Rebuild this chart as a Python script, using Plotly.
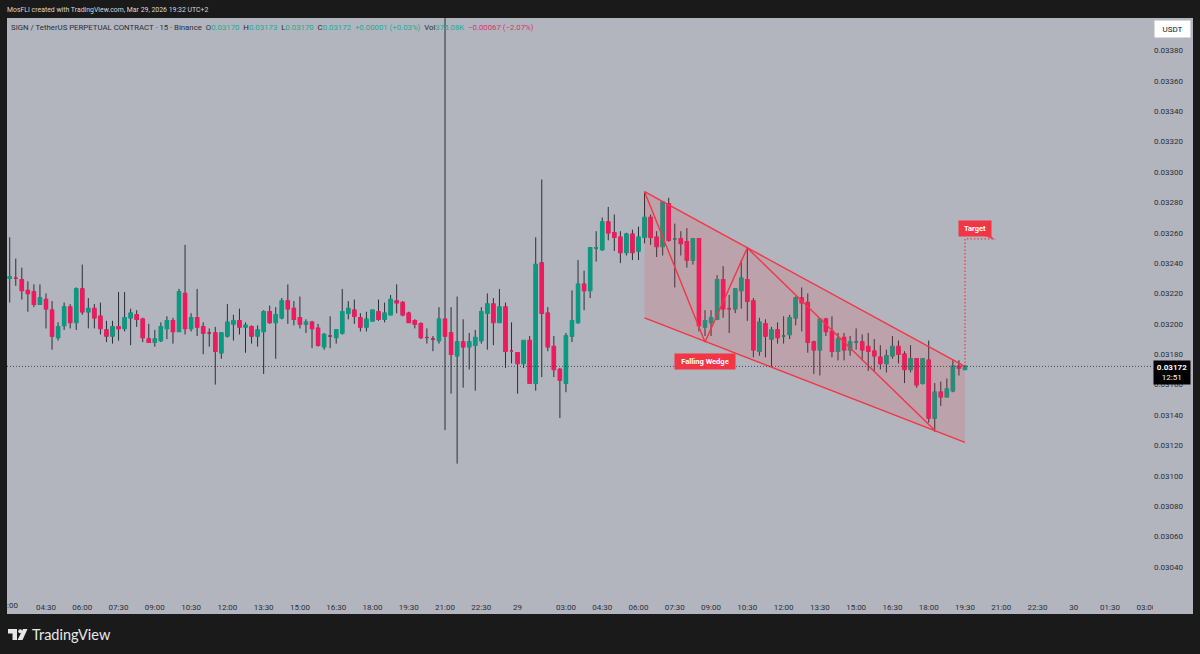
#############################################
########## 1. Load libraries
#############################################
import plotly.graph_objs as go

#############################################
########## 2. Data
#############################################
# Prices are in ticks of 0.00001 USDT, one entry per 15 minute bar
open_ticks = [3230, 3230, 3229, 3222, 3221, 3213, 3216, 3209, 3191, 3199, 3211, 3201, 3223, 3208, 3210, 3205, 3196, 3192, 3198, 3197,
	3204, 3206, 3203, 3190, 3188, 3189, 3197, 3202, 3195, 3220, 3197, 3204, 3198, 3194, 3194, 3181, 3192, 3200, 3202, 3198,
	3198, 3192, 3195, 3208, 3201, 3204, 3215, 3210, 3204, 3200, 3201, 3197, 3185, 3192, 3191, 3194, 3207, 3209, 3204, 3198,
	3202, 3208, 3203, 3206, 3215, 3214, 3207, 3202, 3200, 3191, 3190, 3189, 3203, 3194, 3179, 3188, 3185, 3186, 3189, 3207,
	3213, 3201, 3211, 3182, 3181, 3174, 3189, 3161, 3240, 3207, 3185, 3170, 3161, 3192, 3201, 3226, 3222, 3250, 3249, 3267,
	3260, 3257, 3247, 3259, 3248, 3257, 3270, 3257, 3251, 3279, 3256, 3256, 3254, 3242, 3256, 3198, 3201, 3203, 3229, 3210,
	3210, 3222, 3229, 3215, 3182, 3200, 3190, 3196, 3192, 3193, 3204, 3217, 3214, 3188, 3183, 3203, 3195, 3182, 3191, 3183,
	3188, 3188, 3185, 3182, 3178, 3174, 3179, 3185, 3180, 3170, 3177, 3161, 3176, 3138, 3155, 3152, 3156, 3172, 3170]
high_ticks = [3257, 3243, 3237, 3228, 3226, 3226, 3220, 3215, 3201, 3214, 3213, 3224, 3239, 3217, 3213, 3214, 3202, 3202, 3221, 3221,
	3210, 3209, 3204, 3200, 3196, 3201, 3205, 3204, 3223, 3252, 3207, 3223, 3201, 3197, 3198, 3194, 3213, 3206, 3210, 3201,
	3199, 3199, 3209, 3212, 3211, 3217, 3226, 3215, 3218, 3203, 3202, 3200, 3194, 3205, 3196, 3223, 3215, 3216, 3207, 3208,
	3209, 3216, 3214, 3219, 3226, 3215, 3208, 3203, 3201, 3197, 3192, 3211, 3420, 3211, 3218, 3203, 3194, 3196, 3211, 3220,
	3217, 3223, 3214, 3201, 3181, 3189, 3192, 3257, 3295, 3211, 3192, 3171, 3194, 3222, 3242, 3235, 3250, 3261, 3270, 3277,
	3272, 3261, 3260, 3262, 3264, 3287, 3272, 3261, 3280, 3283, 3266, 3261, 3263, 3256, 3256, 3209, 3209, 3232, 3238, 3219,
	3223, 3242, 3250, 3217, 3204, 3203, 3198, 3201, 3205, 3206, 3218, 3224, 3220, 3189, 3203, 3204, 3205, 3194, 3194, 3192,
	3197, 3193, 3194, 3190, 3186, 3183, 3192, 3189, 3182, 3186, 3177, 3177, 3189, 3161, 3162, 3164, 3176, 3176, 3173]
low_ticks = [3214, 3225, 3216, 3208, 3211, 3213, 3197, 3183, 3189, 3196, 3197, 3196, 3206, 3197, 3197, 3193, 3188, 3187, 3189, 3195,
	3186, 3198, 3188, 3188, 3185, 3188, 3190, 3187, 3195, 3193, 3195, 3192, 3180, 3185, 3160, 3177, 3191, 3189, 3193, 3181,
	3187, 3185, 3167, 3200, 3177, 3203, 3200, 3199, 3197, 3194, 3184, 3185, 3183, 3184, 3187, 3193, 3203, 3200, 3195, 3195,
	3202, 3202, 3201, 3206, 3207, 3205, 3201, 3197, 3190, 3187, 3182, 3187, 3130, 3154, 3108, 3158, 3170, 3156, 3187, 3183,
	3186, 3201, 3171, 3174, 3154, 3171, 3161, 3156, 3165, 3182, 3165, 3138, 3155, 3188, 3200, 3209, 3217, 3241, 3248, 3255,
	3248, 3240, 3245, 3242, 3242, 3253, 3252, 3244, 3245, 3254, 3224, 3245, 3237, 3239, 3195, 3192, 3192, 3203, 3204, 3194,
	3207, 3210, 3202, 3178, 3179, 3178, 3172, 3187, 3187, 3190, 3199, 3195, 3181, 3167, 3166, 3192, 3178, 3176, 3176, 3179,
	3183, 3176, 3169, 3169, 3170, 3168, 3177, 3174, 3161, 3168, 3158, 3160, 3135, 3129, 3146, 3152, 3155, 3166, 3170]
close_ticks = [3231, 3230, 3222, 3220, 3213, 3217, 3210, 3192, 3198, 3211, 3201, 3223, 3208, 3210, 3204, 3197, 3192, 3198, 3197, 3204,
	3207, 3203, 3191, 3188, 3190, 3198, 3202, 3195, 3221, 3197, 3204, 3198, 3194, 3194, 3182, 3194, 3201, 3202, 3198, 3199,
	3192, 3196, 3208, 3201, 3206, 3215, 3210, 3203, 3200, 3201, 3197, 3186, 3193, 3192, 3196, 3208, 3210, 3205, 3198, 3203,
	3209, 3203, 3207, 3216, 3214, 3206, 3201, 3200, 3191, 3191, 3190, 3203, 3192, 3180, 3188, 3185, 3188, 3191, 3208, 3213,
	3201, 3211, 3182, 3182, 3174, 3189, 3161, 3239, 3207, 3185, 3170, 3163, 3192, 3202, 3226, 3222, 3250, 3250, 3267, 3260,
	3257, 3247, 3259, 3247, 3257, 3270, 3257, 3251, 3280, 3255, 3256, 3253, 3242, 3256, 3199, 3202, 3204, 3229, 3210, 3210,
	3223, 3230, 3215, 3183, 3201, 3192, 3196, 3191, 3192, 3204, 3217, 3214, 3188, 3183, 3203, 3195, 3182, 3190, 3183, 3188,
	3188, 3183, 3182, 3179, 3174, 3179, 3185, 3180, 3170, 3177, 3160, 3177, 3138, 3155, 3152, 3157, 3172, 3171, 3172]

# Tick positions are bar numbers, the 29 to 03:00 gap is the DST change
x_tick_bars = [0, 6, 12, 18, 24, 30, 36, 42, 48, 54, 60, 66, 72, 78, 84, 92, 98, 104, 110, 116, 122, 128, 134, 140, 146, 152, 158, 164, 170, 176, 182, 188]
x_tick_labels = ['03:00', '04:30', '06:00', '07:30', '09:00', '10:30', '12:00', '13:30', '15:00', '16:30', '18:00', '19:30', '21:00', '22:30', '29',
	'03:00', '04:30', '06:00', '07:30', '09:00', '10:30', '12:00', '13:30', '15:00', '16:30', '18:00', '19:30', '21:00', '22:30', '30', '01:30', '03:00']
y_tick_values = [0.0304, 0.0306, 0.0308, 0.0310, 0.0312, 0.0314, 0.0316, 0.0318, 0.0320, 0.0322, 0.0324, 0.0326, 0.0328, 0.0330, 0.0332, 0.0334, 0.0336, 0.0338]

# Drawings, as bar number and ticks
wedge_bars = [105, 158, 158, 105, 105]
wedge_ticks = [3287, 3172, 3122, 3204, 3287]
wave_bars = [105, 115, 122, 153]
wave_ticks = [3287, 3188, 3250, 3130]
target_bars = [158, 158, 163]
target_ticks = [3172, 3256, 3256]

#############################################
########## 3. Helpers
#############################################
GREEN = '#0b9a81'
RED = '#ef1a5e'
WICK = '#2c2f38'
DRAW = '#f23645'
FONT = 'Roboto'
PLOT_L, PLOT_R, PLOT_T, PLOT_B = 7, 1153, 18, 594

def px(x):
	return (x-PLOT_L)/(PLOT_R-PLOT_L)

def py(y):
	return (PLOT_B-y)/(PLOT_B-PLOT_T)

def prices(ticks):
	return [e/100000 for e in ticks]

def panel(x0, y0, x1, y1, color, layer='below'):
	return dict(type='rect', xref='paper', yref='paper', x0=px(x0), x1=px(x1), y0=py(y0), y1=py(y1), fillcolor=color, line=dict(width=0), layer=layer)

def poly(points, color):
	path = 'M'+' L'.join(str(px(x))+' '+str(py(y)) for x, y in points)+' Z'
	return dict(type='path', xref='paper', yref='paper', path=path, fillcolor=color, line=dict(width=0), layer='above')

def label(x, y, text, size, color, anchor='left', bg=None, font=FONT, **kwargs):
	return dict(xref='paper', yref='paper', x=px(x), y=py(y), text=text, showarrow=False, xanchor=anchor, yanchor='middle', align='center',
		font=dict(family=font, size=size, color=color), bgcolor=bg, **kwargs)

#############################################
########## 4. Plot
#############################################
bars = list(range(len(open_ticks)))
body_high = [max(o, c) for o, c in zip(open_ticks, close_ticks)]
body_low = [min(o, c) for o, c in zip(open_ticks, close_ticks)]

data = [
	# Wicks
	go.Candlestick(x=bars, open=prices(open_ticks), high=prices(high_ticks), low=prices(low_ticks), close=prices(close_ticks),
		increasing=dict(line=dict(color=WICK, width=1), fillcolor=GREEN), decreasing=dict(line=dict(color=WICK, width=1), fillcolor=RED), showlegend=False),
	# Bodies
	go.Candlestick(x=bars, open=prices(open_ticks), high=prices(body_high), low=prices(body_low), close=prices(close_ticks),
		increasing=dict(line=dict(color=GREEN, width=1.6), fillcolor=GREEN), decreasing=dict(line=dict(color=RED, width=1.6), fillcolor=RED), showlegend=False),
	# Falling wedge
	go.Scatter(x=wedge_bars, y=prices(wedge_ticks), mode='none', fill='toself', fillcolor='rgba(242,54,69,0.15)', showlegend=False),
	go.Scatter(x=wedge_bars[:2], y=prices(wedge_ticks[:2]), mode='lines', line=dict(color=DRAW, width=1.4), showlegend=False),
	go.Scatter(x=wedge_bars[2:4], y=prices(wedge_ticks[2:4]), mode='lines', line=dict(color=DRAW, width=1.4), showlegend=False),
	go.Scatter(x=wave_bars, y=prices(wave_ticks), mode='lines', line=dict(color=DRAW, width=1.4), showlegend=False),
	go.Scatter(x=target_bars, y=prices(target_ticks), mode='lines', line=dict(color=DRAW, width=1.2, dash='1.5px,2px'), showlegend=False),
]

legend_text = ('<span style="color:#2a2e39">SIGN / TetherUS PERPETUAL CONTRACT · 15 · Binance&nbsp;&nbsp;O</span><span style="color:#22ab94">0.03170</span>'
	'<span style="color:#2a2e39">&nbsp;&nbsp;H</span><span style="color:#22ab94">0.03173</span><span style="color:#2a2e39">&nbsp;&nbsp;L</span><span style="color:#22ab94">0.03170</span>'
	'<span style="color:#2a2e39">&nbsp;&nbsp;C</span><span style="color:#22ab94">0.03172</span><span style="color:#22ab94">&nbsp;&nbsp;+0.00001 (+0.03%)</span>'
	'<span style="color:#2a2e39">&nbsp;&nbsp;Vol</span><span style="color:#22ab94">375.08K</span><span style="color:#d6336c">&nbsp;&nbsp;−0.00067 (−2.07%)</span>')

annotations = [
	label(5, 9.5, 'MosFLI created with TradingView.com, Mar 29, 2026 19:32 UTC+2', 6.9, '#d8d8d8'),
	label(9, 27, legend_text, 7.8, '#2a2e39'),
	label(1172.5, 29, 'USDT', 8, '#131722', anchor='center', bg='#ffffff', width=33, height=14),
	label(1172, 372.5, '<b>0.03172</b><br>12:51', 8, '#ffffff', anchor='center', bg='#000000', width=34, height=21),
	label(30, 634, 'TradingView', 14.5, '#e8e8e8', font='Lato'),
	# First time label is cut by the left edge
	label(5, 605, ':00', 8, '#2a2e39'),
	dict(x=115, y=3175/100000, text='<b>Falling Wedge</b>', showarrow=False, font=dict(family=FONT, size=7.5, color='#ffffff'), bgcolor=DRAW, width=58, height=13),
	dict(x=159.7, y=3263/100000, text='<b>Target</b>', showarrow=False, font=dict(family=FONT, size=7.5, color='#ffffff'), bgcolor=DRAW, width=30, height=13),
]

shapes = [
	panel(7, 594, 1193, 614, '#b2b5be'),
	panel(1153, 18, 1193, 614, '#b2b5be'),
	panel(0, 594, 7, 614, '#1a1a1a', layer='above'),
	panel(1153, 594, 1193, 614, '#b2b5be', layer='above'),
	dict(type='line', xref='paper', yref='y', x0=0, x1=1, y0=close_ticks[-1]/100000, y1=close_ticks[-1]/100000, line=dict(color='#2c2f38', width=0.8, dash='1px,2px'), layer='above'),
	poly([(8, 629), (17, 629), (17, 640), (12.5, 640), (12.5, 633.5), (8, 633.5)], '#e8e8e8'),
	poly([(23, 629), (27.5, 629), (22.5, 640), (17.5, 640)], '#e8e8e8'),
	poly([(985, 236), (991, 236), (995, 240)], DRAW),
	dict(type='circle', xref='paper', yref='paper', x0=px(18.2), x1=px(22.2), y0=py(633.2), y1=py(629.2), fillcolor='#e8e8e8', line=dict(width=0), layer='above'),
]

layout = go.Layout(width=1200, height=654, margin=dict(l=PLOT_L, r=1200-PLOT_R, t=PLOT_T, b=654-PLOT_B), paper_bgcolor='#1a1a1a', plot_bgcolor='#b2b5be',
	hovermode='closest', showlegend=False, shapes=shapes, annotations=annotations,
	xaxis=dict(range=[-0.45, 189.1], rangeslider=dict(visible=False), showgrid=False, zeroline=False, showline=False, ticks='outside', ticklen=5, tickcolor='rgba(0,0,0,0)', tickmode='array',
		tickvals=x_tick_bars, ticktext=x_tick_labels, tickangle=0, tickfont=dict(family=FONT, size=8, color='#2a2e39')),
	yaxis=dict(range=[0.0302216, 0.0340136], side='right', showgrid=False, zeroline=False, showline=False, ticks='', tickmode='array',
		tickvals=y_tick_values, tickformat='.5f', tickfont=dict(family=FONT, size=8, color='#2a2e39')))

fig = go.Figure(data=data, layout=layout)
# Page margin would shift the whole chart
fig.write_html("out.html", config=dict(displayModeBar=False), post_script="document.body.style.margin='0';document.body.style.background='#1a1a1a';")
